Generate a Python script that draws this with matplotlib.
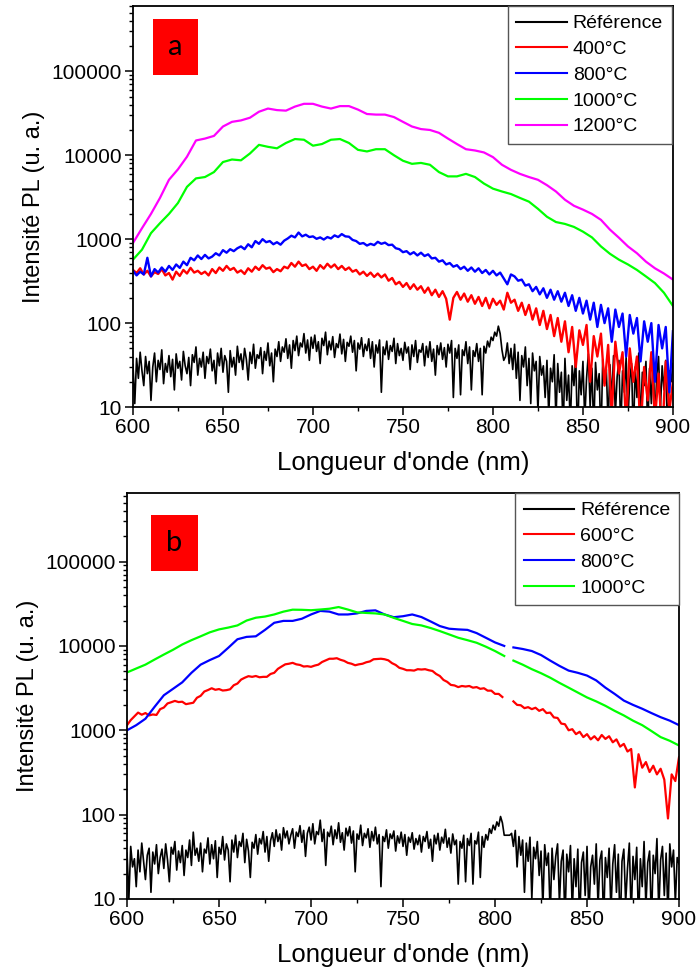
import numpy as np
import matplotlib
matplotlib.use("Agg")
import matplotlib.pyplot as plt
from matplotlib.patches import Rectangle
from matplotlib.ticker import FixedLocator, MultipleLocator, LogLocator, FuncFormatter, NullFormatter

plt.rcParams['font.family'] = ['Liberation Sans', 'DejaVu Sans']

# wavelength grids (nm)
WL_1 = np.arange(600, 901, 1)             # reference spectra (very noisy)
WL_FINE = np.arange(600, 901, 2)          # noisy spectra
WL_A = np.arange(600, 901, 5)             # smooth spectra, panel a
WL_B = np.concatenate([np.arange(600, 806, 5), [807], np.arange(810, 901, 5)])  # panel b, gap at 807

# ---------------- panel a ----------------
ref_a = [
    32, 11, 38, 22, 45, 27, 18, 40, 25, 35,
    12, 30, 44, 20, 36, 28, 48, 19, 33, 26,
    41, 23, 37, 16, 43, 29, 35, 21, 46, 31,
    25, 39, 18, 42, 34, 52, 24, 38, 30, 45,
    22, 40, 33, 49, 27, 36, 19, 44, 31, 50,
    26, 41, 35, 15, 47, 30, 39, 24, 53, 34,
    43, 28, 50, 37, 21, 45, 33, 56, 29, 42,
    38, 51, 25, 46, 36, 58, 31, 44, 20, 49,
    40, 60, 35, 52, 45, 65, 38, 55, 29, 62,
    47, 70, 41, 58, 52, 75, 44, 63, 36, 68,
    50, 72, 46, 60, 33, 66, 54, 78, 42, 61,
    48, 69, 39, 57, 51, 74, 43, 64, 35, 59,
    53, 70, 45, 62, 27, 58, 49, 67, 40, 56,
    47, 65, 38, 60, 30, 55, 44, 63, 15, 52,
    42, 61, 37, 54, 46, 66, 33, 57, 41, 50,
    36, 59, 44, 52, 28, 55, 40, 62, 34, 48,
    45, 57, 31, 53, 39, 60, 35, 49, 24, 54,
    42, 58, 37, 51, 30, 56, 44, 62, 13, 50,
    38, 55, 14, 48, 41, 60, 33, 52, 16, 47,
    40, 57, 35, 50, 14, 53, 44, 61, 52, 68,
    62, 78, 70, 92, 75, 48, 36, 40, 58, 33,
    50, 28, 56, 22, 45, 12, 41, 30, 52, 18,
    38, 11, 44, 27, 35, 9, 40, 24, 31, 13,
    36, 8, 29, 20, 42, 7, 33, 15, 26, 5,
    38, 12, 24, 6, 31, 18, 40, 4, 27, 14,
    35, 7, 22, 43, 10, 29, 5, 34, 16, 25,
    4, 37, 19, 28, 6, 32, 12, 41, 8, 23,
    36, 5, 27, 15, 39, 7, 21, 33, 4, 30,
    13, 44, 6, 26, 18, 35, 5, 29, 11, 38,
    7, 24, 40, 9, 31, 16, 36, 4, 27, 20,
    33]

t400_a = [
    430, 395, 450, 380, 420, 360, 405, 385, 440, 370,
    395, 330, 410, 365, 430, 390, 455, 400, 420, 385,
    410, 370, 440, 395, 460, 420, 480, 430, 455, 400,
    425, 385, 450, 410, 470, 430, 490, 445, 460, 405,
    440, 415, 470, 450, 520, 470, 540, 480, 500, 440,
    470, 420, 490, 445, 510, 460, 500, 440, 480, 430,
    460, 410, 430, 380, 410, 365, 400, 355, 390, 350,
    380, 320, 345, 290, 310, 270, 300, 255, 290, 250,
    275, 230, 265, 215, 250, 205, 240, 195, 110, 200,
    235, 190, 225, 180, 215, 170, 205, 160, 200, 150,
    195, 165, 185, 145, 230, 175, 190, 140, 175, 125,
    165, 110, 150, 95, 140, 85, 125, 70, 115, 60,
    105, 45, 90, 30, 82, 55, 95, 20, 70, 40,
    75, 18, 55, 8, 60, 25, 45, 6, 50, 20,
    40, 5, 30, 12, 45, 7, 25, 4, 35, 9,
    20]

t800_a = [
    420, 370, 410, 380, 600, 360, 440, 400, 460, 410,
    480, 430, 500, 455, 540, 490, 600, 560, 640, 580,
    650, 590, 620, 680, 640, 740, 690, 760, 720, 780,
    820, 760, 870, 800, 950, 880, 1000, 920, 950, 870,
    920, 860, 960, 1020, 1100, 1050, 1200, 1080, 1130, 1060,
    1080, 1010, 1050, 990, 1060, 1020, 1110, 1060, 1150, 1080,
    1070, 980, 950, 880, 900, 840, 880, 850, 930, 880,
    910, 850, 860, 780, 760, 700, 720, 660, 700, 640,
    690, 630, 660, 590, 600, 540, 560, 500, 520, 470,
    490, 440, 470, 420, 460, 410, 450, 395, 430, 380,
    420, 370, 400, 340, 290, 380, 360, 320, 330, 280,
    290, 240, 270, 220, 260, 200, 250, 190, 240, 180,
    230, 160, 215, 140, 200, 130, 185, 110, 175, 90,
    165, 100, 150, 60, 145, 90, 130, 40, 125, 75,
    115, 35, 105, 60, 100, 20, 95, 50, 90, 15,
    80]

t1000_a = [
    570, 750, 1180, 1550, 2000, 2700, 4200, 5300, 5500, 6300,
    8300, 8900, 8700, 10500, 13300, 12600, 12100, 14000, 15600, 15300,
    13000, 13600, 15300, 15600, 14000, 11600, 11100, 11800, 11800, 10000,
    8600, 7900, 8100, 7700, 6300, 5600, 5600, 6000, 5500, 4600,
    4000, 3700, 3450, 3100, 2800, 2300, 1850, 1600, 1520, 1400,
    1230, 1050, 820, 670, 570, 500, 430, 360, 300, 230,
    160]

t1200_a = [
    900, 1350, 2000, 3100, 5100, 6800, 9600, 15000, 15800, 17000,
    22000, 25000, 26000, 28000, 33000, 36000, 34500, 34000, 38000, 41000,
    41000, 38000, 36000, 38500, 38500, 35000, 31000, 30500, 30500, 28500,
    25000, 22000, 20500, 20000, 18500, 15800, 13600, 11800, 11400, 10800,
    9500, 7700, 6700, 6000, 5500, 5100, 4400, 3700, 2950, 2500,
    2250, 2000, 1700, 1300, 1040, 820, 680, 540, 450, 390,
    330]

# ---------------- panel b ----------------
ref_b = [
    35, 10, 42, 24, 30, 14, 38, 21, 46, 28,
    17, 33, 40, 12, 36, 26, 44, 20, 31, 39,
    23, 45, 29, 16, 41, 34, 48, 22, 37, 27,
    43, 19, 38, 31, 50, 25, 62, 33, 40, 28,
    46, 21, 39, 35, 53, 26, 44, 30, 49, 18,
    41, 34, 55, 29, 45, 38, 16, 50, 36, 57,
    31, 48, 42, 60, 27, 51, 37, 18, 47, 40,
    58, 34, 52, 45, 63, 36, 55, 28, 49, 61,
    42, 66, 48, 59, 38, 70, 53, 64, 45, 57,
    68, 40, 62, 55, 74, 47, 65, 32, 60, 71,
    50, 78, 45, 63, 58, 86, 48, 67, 25, 62,
    55, 73, 44, 66, 52, 80, 47, 61, 38, 69,
    56, 72, 46, 64, 21, 59, 51, 75, 43, 60,
    53, 68, 41, 63, 49, 71, 45, 58, 14, 55,
    48, 66, 40, 59, 52, 64, 37, 56, 46, 62,
    42, 58, 33, 54, 47, 61, 39, 52, 44, 57,
    36, 55, 48, 63, 40, 51, 28, 57, 45, 60,
    38, 54, 46, 67, 41, 53, 35, 59, 44, 50,
    15, 48, 40, 57, 16, 52, 43, 60, 15, 49,
    45, 62, 18, 55, 41, 58, 50, 68, 60, 75,
    66, 82, 73, 95, 80, 57, 57, 57, 57, 60,
    42, 65, 24, 55, 33, 50, 12, 46, 28, 54,
    10, 41, 30, 48, 19, 37, 8, 44, 25, 35,
    6, 40, 17, 32, 45, 9, 28, 38, 5, 34,
    21, 43, 7, 30, 14, 39, 5, 27, 36, 11,
    42, 6, 24, 33, 15, 45, 8, 29, 37, 5,
    31, 18, 40, 7, 26, 44, 12, 34, 4, 28,
    39, 9, 23, 46, 6, 32, 17, 41, 5, 30,
    14, 48, 8, 27, 37, 5, 33, 20, 52, 7,
    29, 42, 11, 35, 6, 45, 24, 38, 9, 31,
    26]

t600_b = [
    1150, 1320, 1460, 1620, 1530, 1600, 1500, 1540, 1520, 1780,
    1860, 2080, 2150, 2230, 2160, 2180, 2040, 2080, 2120, 2430,
    2560, 2880, 3000, 3150, 3020, 3080, 2960, 2990, 3060, 3420,
    3580, 3990, 4200, 4380, 4300, 4400, 4250, 4300, 4300, 4650,
    4800, 5350, 5700, 6050, 6150, 6300, 6050, 5950, 5700, 5750,
    5650, 5850, 6000, 6450, 6750, 7050, 7050, 7150, 6850, 6650,
    6300, 6150, 5900, 6050, 6150, 6400, 6550, 6950, 7000, 7050,
    6950, 6750, 6250, 5950, 5500, 5350, 5150, 5150, 5100, 5300,
    5250, 5300, 5150, 5050, 4650, 4400, 3950, 3750, 3450, 3400,
    3250, 3350, 3300, 3350, 3200, 3250, 3100, 3150, 2950, 2950,
    2700, 2700, 2480, np.nan, np.nan, 2200, 2000, 1980, 1830, 1880,
    1780, 1850, 1700, 1780, 1600, 1620, 1420, 1400, 1200, 1180,
    1000, 1030, 900, 960, 830, 900, 780, 850, 760, 880,
    790, 850, 720, 780, 640, 690, 560, 600, 210, 520,
    360, 420, 320, 380, 300, 350, 260, 90, 300, 250,
    480]

t800_b = [
    1000, 1150, 1370, 1900, 2600, 3100, 3700, 4800, 6000, 6800,
    7600, 9500, 12000, 12800, 13000, 15500, 18800, 19800, 19800, 21000,
    23600, 26000, 25500, 23600, 23600, 24300, 26000, 26400, 23600, 21900,
    22500, 23600, 22000, 19500, 17200, 16000, 15700, 15500, 14200, 12500,
    11000, 10000,
    np.nan,
    9600, 9200, 8700, 7800, 6700, 5800, 5100, 4800, 4450, 3900,
    3200, 2700, 2250, 2000, 1800, 1600, 1430, 1300, 1150]

t1000_b = [
    4850, 5400, 6000, 6900, 7900, 9000, 10400, 11700, 13000, 14500,
    15700, 16500, 17500, 20000, 21600, 22300, 23600, 25500, 26900, 26800,
    26500, 27000, 27600, 28900, 27000, 25000, 24600, 24300, 23600, 21500,
    19800, 18200, 17500, 16300, 15000, 13700, 12500, 11700, 10900, 9800,
    8700, 7600,
    np.nan,
    6700, 6000, 5300, 4750, 4200, 3650, 3200, 2800, 2450, 2200,
    1950, 1700, 1500, 1300, 1150, 980, 830, 750, 660]

labels_a = ["Référence", "400°C", "800°C", "1000°C", "1200°C"]
labels_b = ["Référence", "600°C", "800°C", "1000°C"]
colors_a = ["black", "#ff0000", "#0000ff", "#00ff00", "#ff00ff"]
colors_b = ["black", "#ff0000", "#0000ff", "#00ff00"]
widths_a = [1.2, 1.7, 1.7, 1.6, 1.6]
widths_b = [1.2, 1.6, 1.6, 1.6]


def style_axes(ax, ymax):
    ax.set_yscale("log")
    ax.set_xlim(600, 900)
    ax.set_ylim(10, ymax)
    ax.xaxis.set_major_locator(MultipleLocator(50))
    ax.xaxis.set_minor_locator(MultipleLocator(25))
    ax.yaxis.set_major_locator(FixedLocator([10, 100, 1000, 10000, 100000]))
    ax.yaxis.set_minor_locator(LogLocator(base=10, subs=np.arange(2, 10)))
    ax.yaxis.set_major_formatter(FuncFormatter(lambda v, p: "%d" % v))
    ax.yaxis.set_minor_formatter(NullFormatter())
    ax.tick_params(which="major", direction="out", length=6, width=1.1, labelsize=15, pad=2)
    ax.tick_params(which="minor", direction="out", length=3, width=1.0)
    for s in ax.spines.values():
        s.set_linewidth(1.3)
    ax.set_xlabel("Longueur d'onde (nm)", fontsize=18.5, labelpad=10)
    ax.set_ylabel("Intensité PL (u. a.)", fontsize=17, labelpad=5)


def panel_tag(ax, letter, x0, y0, w, h):
    ax.add_patch(Rectangle((x0, y0), w, h, transform=ax.transAxes,
                           facecolor="#ff0000", edgecolor="none", zorder=5))
    ax.text(x0 + w / 2, y0 + h / 2, letter, transform=ax.transAxes,
            ha="center", va="center", fontsize=21, family=["Lato", "DejaVu Sans"],
            zorder=6)


def add_legend(ax, xanchor):
    leg = ax.legend(loc="upper right", bbox_to_anchor=(xanchor, 1.0), borderaxespad=0,
                    fontsize=14, frameon=True, fancybox=False, framealpha=1,
                    edgecolor="#555555", handlelength=2.6, handletextpad=0.3,
                    labelspacing=0.42, borderpad=0.45)
    leg.get_frame().set_linewidth(1.0)
    for h in leg.get_lines():
        h.set_linewidth(1.5)


fig = plt.figure(figsize=(6.98, 9.68), dpi=100)

# panel a
ax1 = fig.add_axes([0.1905, 0.5795, 0.7736, 0.4143])
series_a = [(WL_1, ref_a), (WL_FINE, t400_a), (WL_FINE, t800_a), (WL_A, t1000_a), (WL_A, t1200_a)]
for (x, y), c, lab, lw in zip(series_a, colors_a, labels_a, widths_a):
    ax1.plot(x, y, color=c, lw=lw, label=lab)
style_axes(ax1, 6.0e5)
panel_tag(ax1, "a", 0.037, 0.828, 0.083, 0.140)
add_legend(ax1, 0.998)

# panel b
ax2 = fig.add_axes([0.182, 0.0713, 0.7908, 0.4194])
series_b = [(WL_1, ref_b), (WL_FINE, t600_b), (WL_B, t800_b), (WL_B, t1000_b)]
for (x, y), c, lab, lw in zip(series_b, colors_b, labels_b, widths_b):
    ax2.plot(x, y, color=c, lw=lw, label=lab)
style_axes(ax2, 6.5e5)
panel_tag(ax2, "b", 0.0435, 0.808, 0.085, 0.138)
add_legend(ax2, 1.0)

plt.savefig("out.png", dpi=100)
